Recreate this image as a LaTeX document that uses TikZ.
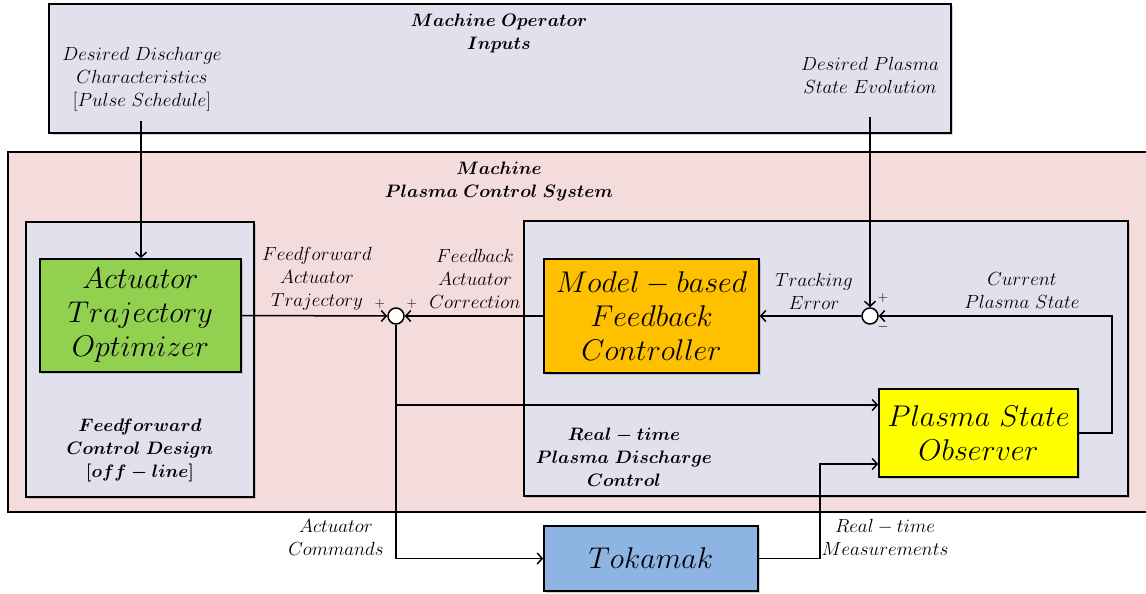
\RequirePackage{fix-cm}
\documentclass[tikz,border=0pt]{standalone}
\usepackage{amsmath,amssymb}
\usepackage{xcolor}
\usepackage{tikz}
\usetikzlibrary{arrows,arrows.meta,shadows,positioning}
\definecolor{lavbg}{RGB}{225,225,237}
\definecolor{pinkbg}{RGB}{244,220,220}
\definecolor{optgreen}{RGB}{146,208,80}
\definecolor{ctrlorange}{RGB}{255,192,0}
\definecolor{obsyellow}{RGB}{255,255,0}
\definecolor{tokblue}{RGB}{141,180,226}
\tikzstyle{block} = [draw, line width=1.6pt, inner sep=0pt,
  drop shadow={shadow xshift=2pt,shadow yshift=-2pt,opacity=.35}]
\tikzstyle{sig} = [line width=1.5pt,-{Straight Barb[length=5pt,width=11pt]}]
\tikzstyle{lbl} = [align=center, inner sep=0pt, font=\fontsize{19}{23}\selectfont]
\tikzstyle{ttl} = [align=center, inner sep=0pt, font=\fontsize{18}{23}\selectfont\boldmath]
\tikzstyle{big} = [align=center, font=\fontsize{30}{34}\selectfont]

\begin{document}
\begin{tikzpicture}[x=1pt,y=-1pt]
    \useasboundingbox (0,0) rectangle (1146,594);
    % frames
    \node[block, fill=lavbg, minimum width=902pt, minimum height=129pt] (ops) at (500,68.5) {};
    \node[draw, line width=1.5pt, fill=pinkbg, minimum width=1150pt, minimum height=360pt] (pcs) at (583,332) {};
    \node[block, fill=lavbg, line width=1.3pt, minimum width=228pt, minimum height=275pt] (ffd) at (140,359.5) {};
    \node[block, fill=lavbg, line width=1.3pt, minimum width=604pt, minimum height=275pt] (rtc) at (826,358.5) {};
    % blocks
    \node[block, big, fill=optgreen, minimum width=201pt, minimum height=113pt] (opt) at (140.5,315.5)
      {$Actuator$\\$Trajectory$\\$Optimizer$};
    \node[block, big, fill=ctrlorange, minimum width=215pt, minimum height=114pt] (ctrl) at (651.5,316)
      {$Model-based$\\$Feedback$\\$Controller$};
    \node[block, big, fill=obsyellow, minimum width=199pt, minimum height=88pt] (obs) at (978.5,433)
      {$Plasma\ State$\\$Observer$};
    \node[block, big, fill=tokblue, minimum width=214pt, minimum height=65pt] (tok) at (651,558.5)
      {$Tokamak$};
    \node[draw, circle, line width=1.5pt, fill=white, minimum size=16pt, inner sep=0pt] (sum1) at (396,316) {};
    \node[draw, circle, line width=1.5pt, fill=white, minimum size=16pt, inner sep=0pt] (sum2) at (870,316) {};
    % titles
    \node[ttl] (opsT) at (499,33.5) {$Machine\ Operator$\\$Inputs$};
    \node[ttl] (pcsT) at (499,181) {$Machine$\\$Plasma\ Control\ System$};
    \node[ttl] (ffdT) at (140,450) {$Feedforward$\\$Control\ Design$\\$[off-line]$};
    \node[ttl] (rtcT) at (624,457) {$Real-time$\\$Plasma\ Discharge$\\$Control$};
    % signal labels
    \node[lbl] (dscL) at (142,79) {$Desired\ Discharge$\\$Characteristics$\\$[Pulse\ Schedule]$};
    \node[lbl] (dpsL) at (870,75) {$Desired\ Plasma$\\$State\ Evolution$};
    \node[lbl] (ffL) at (317,279) {$Feedforward$\\$Actuator$\\$Trajectory$};
    \node[lbl] (fbL) at (475,279) {$Feedback$\\$Actuator$\\$Correction$};
    \node[lbl] (teL) at (814,291) {$Tracking$\\$Error$};
    \node[lbl] (cpL) at (1022,291) {$Current$\\$Plasma\ State$};
    \node[lbl] (acL) at (336,538) {$Actuator$\\$Commands$};
    \node[lbl] (rmL) at (885,537) {$Real-time$\\$Measurements$};
    \node[lbl, font=\fontsize{14}{14}\selectfont] (p1) at (380,304) {$+$};
    \node[lbl, font=\fontsize{14}{14}\selectfont] (p2) at (412,304) {$+$};
    \node[lbl, font=\fontsize{14}{14}\selectfont] (p3) at (883,298) {$+$};
    \node[lbl, font=\fontsize{14}{14}\selectfont] (m3) at (883,327) {$-$};
    % connectors
    \coordinate (dsc) at (141,121);
    \coordinate (dps) at (870,117);
    \coordinate (br) at (396,405);
    \coordinate (meas) at (820,464);
    \coordinate (fb) at (1112,316);
    \draw[sig] (dsc) -- (dsc |- opt.north);
    \foreach \from/\to in {dps/sum2.north,opt.east/sum1.west,ctrl.west/sum1.east,sum2.west/ctrl.east}
    \draw[sig] (\from) -- (\to);
    \draw[sig] (sum1.south) |- (tok.west);
    \draw[sig] (br) -- (br -| obs.west);
    \draw[sig] (tok.east) -| (meas) -- (meas -| obs.west);
    \draw[sig] (obs.east) -| (fb) -- (sum2.east);
\end{tikzpicture}
\end{document}
